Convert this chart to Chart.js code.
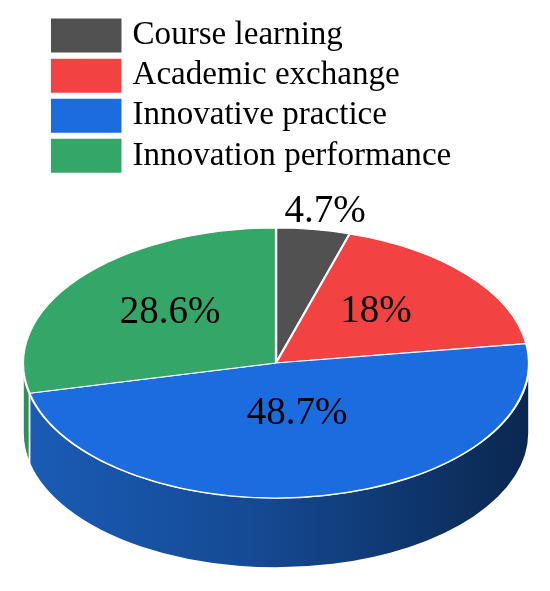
<!DOCTYPE html>
<html lang="en">

<head>
  <meta charset="UTF-8">
  <script src="https://cdnjs.cloudflare.com/ajax/libs/Chart.js/4.4.1/chart.umd.min.js"></script>
  <title>Course pie</title>
  <style>
    html, body { margin: 0; padding: 0; background: #fff; }
    canvas { display: block; }
  </style>
</head>

<body>
  <canvas id="myChart" width="550" height="591"></canvas>
  <script>
    const categories = ['Course learning', 'Academic exchange', 'Innovative practice', 'Innovation performance'];
    const shares = [4.7, 18, 48.7, 28.6];
    const topColors = ['#515151', '#f24242', '#1b6cdf', '#34a768'];

    // tilted pie: where the top ellipse sits on the page
    const tilt = { cx: 276, cy: 363, rx: 253, ry: 135, depth: 70 };
    // label position relative to the ellipse centre
    const labelOffsets = [[49, -151], [100, -51], [21, 51], [-106, -50]];

    const tiltPlugin = {
      id: 'tilt',
      beforeDatasetsDraw(chart) {
        const ctx = chart.ctx;
        const arcs = chart.getDatasetMeta(0).data;
        const { cx, cy, rx, ry, depth } = tilt;

        // side wall, only the part of each slice that faces the viewer
        arcs.forEach((arc, i) => {
          const a = Math.max(arc.startAngle, 0);
          const b = Math.min(arc.endAngle, Math.PI);
          if (b <= a) return;
          let fill = '#2f9059';
          if (i === 2) {
            fill = ctx.createLinearGradient(cx - rx, 0, cx + rx, 0);
            fill.addColorStop(0, '#1a5cb6');
            fill.addColorStop(0.45, '#154a94');
            fill.addColorStop(1, '#0a2750');
          }
          ctx.save();
          ctx.beginPath();
          ctx.ellipse(cx, cy, rx, ry, 0, a, b);
          ctx.ellipse(cx, cy + depth, rx, ry, 0, b, a, true);
          ctx.closePath();
          ctx.fillStyle = fill;
          ctx.fill();
          ctx.strokeStyle = '#fff';
          ctx.lineWidth = 1.6;
          ctx.stroke();
          ctx.restore();
        });

        // squash the library's round pie onto the ellipse
        const first = arcs[0];
        ctx.save();
        ctx.translate(cx, cy);
        ctx.scale(rx / first.outerRadius, ry / first.outerRadius);
        ctx.translate(-first.x, -first.y);
      },
      afterDatasetsDraw(chart) {
        const ctx = chart.ctx;
        ctx.restore();
        ctx.save();
        ctx.fillStyle = '#000';
        ctx.font = '39px "Liberation Serif"';
        ctx.textAlign = 'center';
        ctx.textBaseline = 'middle';
        shares.forEach((v, i) => {
          ctx.fillText(v + '%', tilt.cx + labelOffsets[i][0], tilt.cy + labelOffsets[i][1]);
        });
        ctx.restore();
      }
    };

    new Chart('myChart', {
      type: 'pie',
      data: {
        labels: categories,
        datasets: [{
          data: shares,
          backgroundColor: topColors,
          borderColor: '#fff',
          borderWidth: 1.8,
          clip: false
        }]
      },
      options: {
        responsive: false,
        animation: false,
        layout: { padding: { left: 49.5, right: 10, top: 12, bottom: 5 } },
        plugins: {
          tooltip: { enabled: false },
          legend: {
            position: 'top',
            align: 'start',
            labels: {
              boxWidth: 59.5,
              boxHeight: 23,
              padding: 7,
              color: '#000',
              font: { family: '"Liberation Serif"', size: 33.1, lineHeight: 1.0272 },
              // the wide stroke keeps the text closer to the swatch
              generateLabels: chart => categories.map((name, i) => ({
                text: name,
                index: i,
                fillStyle: topColors[i],
                strokeStyle: topColors[i],
                lineWidth: 11,
                fontColor: '#000',
                hidden: false
              }))
            }
          }
        }
      },
      plugins: [tiltPlugin]
    });
  </script>
</body>

</html>
